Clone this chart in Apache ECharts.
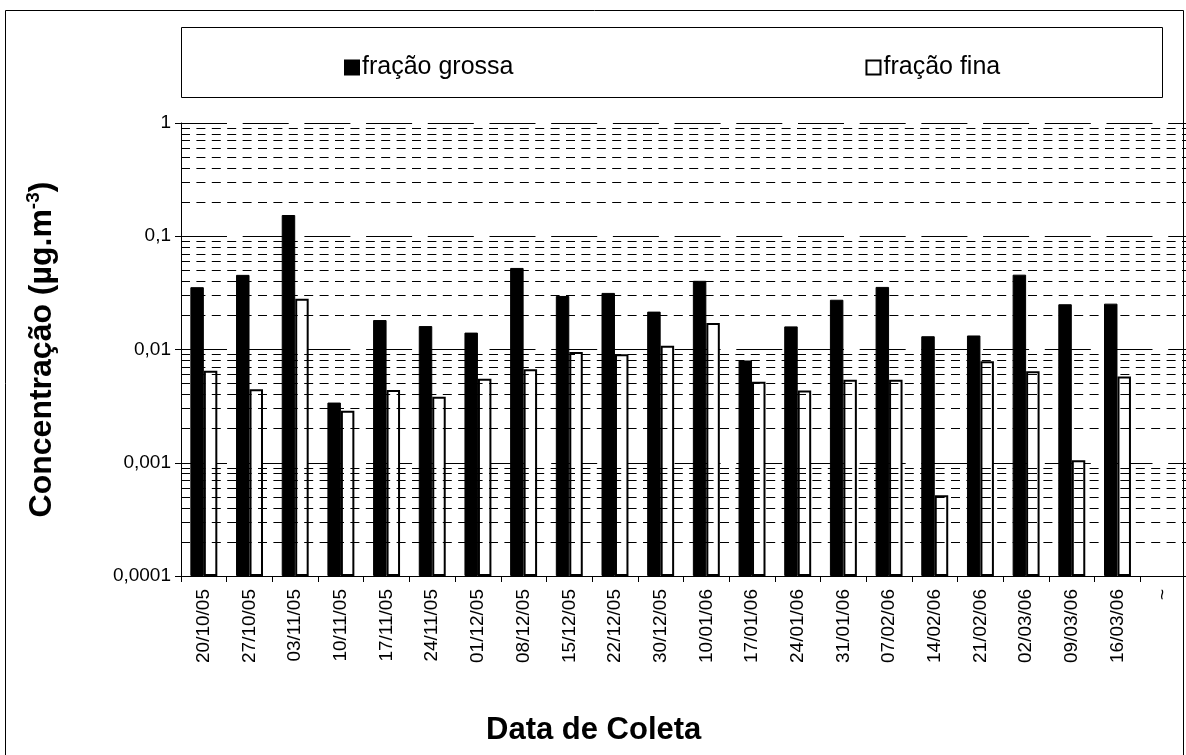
<!DOCTYPE html>
<html>
<head>
<meta charset="utf-8">
<script src="https://cdn.jsdelivr.net/npm/echarts@6/dist/echarts.min.js"></script>
<style>
  html, body { margin: 0; padding: 0; background: #fff; }
  #chart { width: 1186px; height: 755px; }
</style>
</head>
<body>
<div id="chart"></div>
<script>
const categories = ['20/10/05','27/10/05','03/11/05','10/11/05','17/11/05','24/11/05','01/12/05','08/12/05','15/12/05','22/12/05','30/12/05','10/01/06','17/01/06','24/01/06','31/01/06','07/02/06','14/02/06','21/02/06','02/03/06','09/03/06','16/03/06','~'];
const fracaoGrossa = [0.0355, 0.0456, 0.154, 0.0034, 0.0182, 0.0161, 0.0141, 0.0525, 0.0297, 0.0316, 0.0216, 0.0404, 0.0080, 0.0160, 0.0275, 0.0357, 0.0131, 0.0133, 0.0458, 0.0251, 0.0254, null];
const fracaoFina = [0.0065, 0.00445, 0.028, 0.00288, 0.00438, 0.00383, 0.00552, 0.0067, 0.0095, 0.0091, 0.0108, 0.0171, 0.00518, 0.00434, 0.0054, 0.0054, 0.000516, 0.00789, 0.00644, 0.00105, 0.00578, null];
const yTickLabels = ['0,0001', '0,001', '0,01', '0,1', '1'];
const minorGridValues = [];
[0.0001, 0.001, 0.01, 0.1].forEach(function (d) {
  for (let k = 2; k <= 9; k++) minorGridValues.push(+(d * k).toPrecision(3));
});

const FONT = '"Liberation Sans", Arial, sans-serif';
const chart = echarts.init(document.getElementById('chart'));

const option = {
  animation: false,
  backgroundColor: '#fff',
  textStyle: { fontFamily: FONT, color: '#000' },
  grid: { left: 181, top: 123, right: -9, bottom: 179, containLabel: false },
  legend: {
    left: 339, top: 50,
    icon: 'rect',
    itemWidth: 14, itemHeight: 14,
    itemGap: 352,
    textStyle: { fontFamily: FONT, fontSize: 25, color: '#000', padding: [0, 0, 0, -2] },
    data: ['fração grossa', 'fração fina']
  },
  xAxis: {
    type: 'category',
    data: categories,
    boundaryGap: true,
    axisLine: { lineStyle: { color: '#000', width: 1 } },
    axisTick: { show: true, inside: false, length: 6, alignWithLabel: false, lineStyle: { color: '#000' } },
    axisLabel: { rotate: 90, margin: 13, fontSize: 19, color: '#000', fontFamily: FONT, interval: 0 },
    splitLine: { show: false }
  },
  yAxis: {
    type: 'log',
    logBase: 10,
    min: 0.0001,
    max: 1,
    startValue: 0.0001,
    axisLine: { show: true, lineStyle: { color: '#000', width: 1 } },
    axisTick: { show: true, length: 6, lineStyle: { color: '#000' } },
    axisLabel: {
      fontSize: 19, color: '#000', fontFamily: FONT, margin: 10,
      formatter: function (v) { return yTickLabels[Math.round(Math.log10(v)) + 4]; }
    },
    splitLine: { show: true, lineStyle: { color: '#000', width: 1, type: [46, 15.7] } },
    name: 'Concentração (µg.m{sup|-3})',
    nameLocation: 'middle',
    nameGap: 121,
    nameRotate: 90,
    nameTextStyle: {
      fontFamily: FONT, fontSize: 32, fontWeight: 'bold', color: '#000',
      rich: { sup: { fontFamily: FONT, fontSize: 19, fontWeight: 'bold', color: '#000', padding: [0, 0, 17, 0] } }
    }
  },
  graphic: [
    { type: 'rect', shape: { x: 5.5, y: 10.5, width: 1178, height: 800 }, style: { fill: null, stroke: '#000', lineWidth: 1 }, z: 0, silent: true },
    { type: 'rect', shape: { x: 181.5, y: 27.5, width: 981, height: 70 }, style: { fill: null, stroke: '#000', lineWidth: 1 }, z: 0, silent: true },
    { type: 'text', left: 486, top: 715, style: { text: 'Data de Coleta', fontFamily: FONT, fontSize: 31, fontWeight: 'bold', fill: '#000' } }
  ],
  series: [
    {
      name: 'fração grossa',
      type: 'bar',
      data: fracaoGrossa,
      barGap: '0%',
      barCategoryGap: '41%',
      itemStyle: { color: '#000', borderColor: '#000', borderWidth: 1 },
      markLine: {
        silent: true,
        symbol: 'none',
        precision: 10,
        label: { show: false },
        lineStyle: { color: '#000', width: 1, type: [9, 6.4] },
        data: minorGridValues.map(function (v) { return { yAxis: v }; })
      },
      z: 3
    },
    {
      name: 'fração fina',
      type: 'bar',
      data: fracaoFina,
      barGap: '0%',
      barCategoryGap: '41%',
      itemStyle: { color: '#fff', borderColor: '#000', borderWidth: 2 },
      z: 3
    }
  ]
};
chart.setOption(option);
</script>
</body>
</html>
